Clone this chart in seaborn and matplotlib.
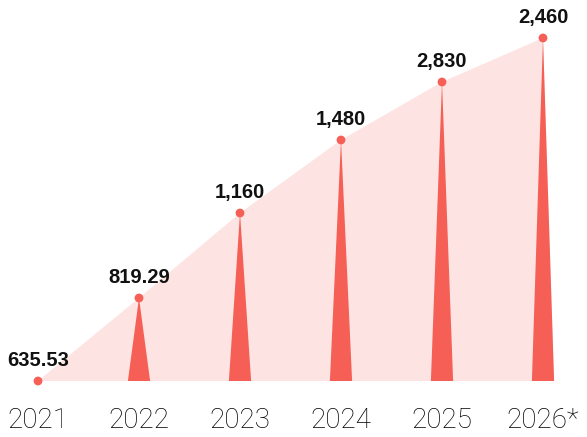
import matplotlib
matplotlib.use("Agg")
import matplotlib.pyplot as plt
import seaborn as sns
import pandas as pd

years = ["2021", "2022", "2023", "2024", "2025", "2026*"]
value_labels = ["635.53", "819.29", "1,160", "1,480", "2,830", "2,460"]
# visual height of each spike as drawn in the picture
heights = [0, 83, 168, 241, 299, 343]

spike_color = "#F55F55"
area_color = "#FDE3E2"

df = pd.DataFrame({"idx": range(len(years)), "year": years, "height": heights})

sns.set_style("white")
plt.rcParams["font.family"] = ["Liberation Sans", "DejaVu Sans"]

fig = plt.figure(figsize=(5.87, 4.37), dpi=100)
ax = fig.add_axes([0, 56 / 437, 1, 381 / 437])

# light area under the peaks
hw = 0.11
xs = list(df["idx"]) + [df["idx"].iloc[-1] + hw, df["idx"].iloc[0]]
ys = list(df["height"]) + [0, 0]
ax.fill(xs, ys, color=area_color, lw=0, zorder=1)

# spikes
for x, h in zip(df["idx"], df["height"]):
    if h > 0:
        ax.fill([x - hw, x, x + hw], [0, h, 0], color=spike_color, lw=0, zorder=2)

sns.scatterplot(data=df, x="idx", y="height", color=spike_color, s=40,
                edgecolor="none", ax=ax, zorder=3, clip_on=False)

for x, h, lab in zip(df["idx"], df["height"], value_labels):
    ax.text(x, h + 11, lab, ha="center", va="bottom", fontsize=14.5,
            fontweight="bold", color="#111111")

ax.set_xlim(-38 / 101, 5 + 44 / 101)
ax.set_ylim(0, 381)
ax.set_xticks(df["idx"])
ax.set_xticklabels(years, fontsize=20, color="#000000",
                   family=["Roboto", "DejaVu Sans"], fontweight="light")
ax.tick_params(axis="x", length=0, pad=19)
ax.set_yticks([])
ax.set_xlabel("")
ax.set_ylabel("")
sns.despine(ax=ax, left=True, bottom=True)

fig.savefig("out.png", dpi=100)
